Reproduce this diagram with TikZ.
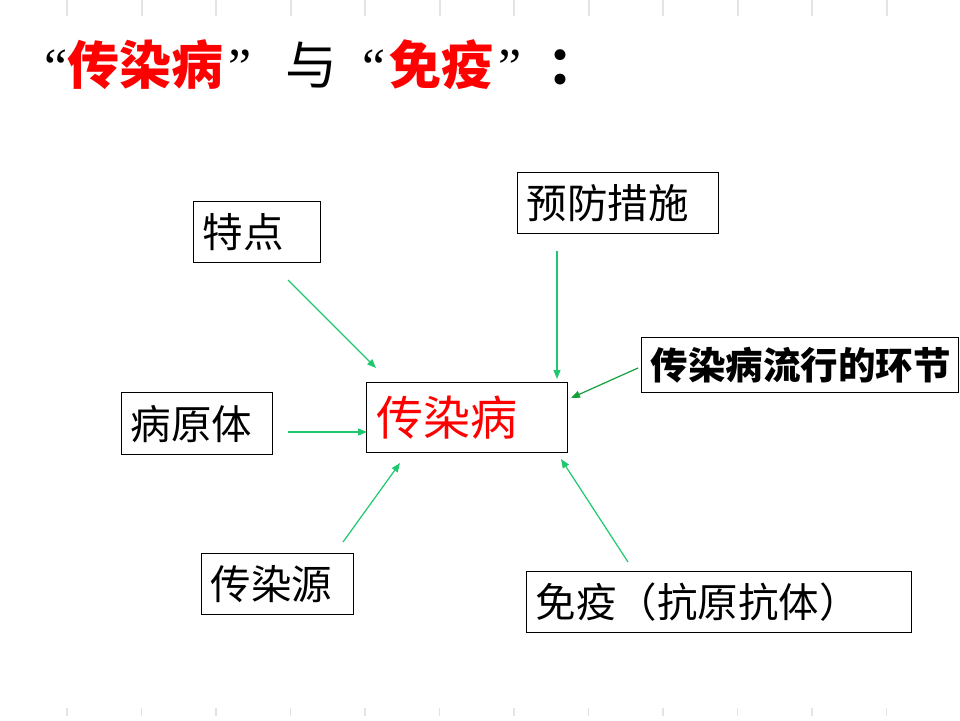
\documentclass[tikz,border=0pt]{standalone}
\usepackage{fontspec}
\setmainfont{Noto Sans CJK SC}
\newfontfamily\qfont{Liberation Serif}
\usetikzlibrary{arrows.meta}
\definecolor{arrgreen}{RGB}{30,200,110}
\definecolor{arrdark}{RGB}{20,160,60}
\definecolor{tickgray}{RGB}{228,228,228}
\tikzset{
  box/.style={draw=black, line width=1.3pt, anchor=north west, inner xsep=9pt, inner ysep=0pt, font=\fontsize{40.5}{42}\selectfont, align=left},
  conn/.style={draw=arrgreen, line width=1.2pt, -{Triangle[length=9pt,width=7pt]}},
  tick/.style={draw=tickgray, line width=2pt},
  ttl/.style={anchor=base west, inner sep=0pt, font=\fontsize{52}{54}\selectfont},
  quo/.style={anchor=base west, inner sep=0pt, font=\qfont\fontsize{52}{54}\selectfont},
}
\begin{document}
\begin{tikzpicture}[x=1pt,y=-1pt]
\useasboundingbox (0,0) rectangle (960,720);
\fill[white] (0,0) rectangle (960,720);
% ticks
\foreach \k in {0,...,11}{
  \draw[tick] ({67+74.5*\k},0) -- ({67+74.5*\k},16);
  \draw[tick, line width=1.5pt] ({67+74.5*\k},708) -- ({67+74.5*\k},716);
}
% title
\node[quo] (q1) at (44,84) {“};
\node[ttl, text=red, font=\fontsize{52}{54}\selectfont\bfseries] (t1) at (67,84) {传染病};
\node[quo] (q2) at (228,84) {”};
\node[ttl] (t2) at (285,84) {与};
\node[quo] (q3) at (362,84) {“};
\node[ttl, text=red, font=\fontsize{52}{54}\selectfont\bfseries] (t3) at (389,84) {免疫};
\node[quo] (q4) at (498,84) {”};
\node[ttl, font=\fontsize{52}{54}\selectfont\bfseries] (t4) at (547,84) {：};
% boxes
\node[box, minimum width=127pt, minimum height=61pt, text width=109pt] (td) at (193,201) {特点};
\node[box, minimum width=201pt, minimum height=61pt, text width=183pt] (yf) at (517,172) {预防措施};
\node[box, minimum width=317pt, minimum height=55pt, text width=299pt, font=\fontsize{37.5}{39}\selectfont\bfseries] (hj) at (641,337) {传染病流行的环节};
\node[box, minimum width=151pt, minimum height=62pt, text width=133pt] (byt) at (121,392) {病原体};
\node[box, minimum width=201pt, minimum height=70pt, text width=181pt, inner xsep=10pt, text=red, font=\fontsize{47}{49}\selectfont] (crb) at (366,382) {传染病};
\node[box, minimum width=152pt, minimum height=61pt, text width=134pt] (cry) at (201,553) {传染源};
\node[box, minimum width=385pt, minimum height=61pt, text width=367pt] (my) at (526,571) {免疫（抗原抗体）};
% connector end points
\coordinate (a1) at (288,280); \coordinate (b1) at (376,368);
\coordinate (a2) at (557,251); \coordinate (b2) at (557,379);
\coordinate (a3) at (638,368); \coordinate (b3) at (571,398);
\coordinate (a4) at (288,432); \coordinate (b4) at (367,432);
\coordinate (a5) at (343,542); \coordinate (b5) at (400,463);
\coordinate (a6) at (628,562); \coordinate (b6) at (561,459);
\draw[conn] (a1) -- (b1);
\draw[conn] (a2) -- (b2);
\draw[conn, draw=arrdark] (a3) -- (b3);
\draw[conn] (a4) -- (b4);
\draw[conn] (a5) -- (b5);
\draw[conn] (a6) -- (b6);
\end{tikzpicture}
\end{document}
